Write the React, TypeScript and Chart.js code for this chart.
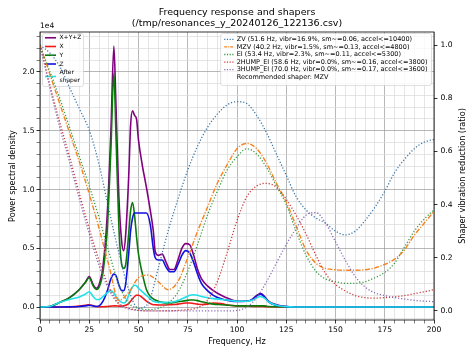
import React, { useEffect, useRef } from 'react';
import { Chart, registerables } from 'chart.js';

Chart.register(...registerables);

// ---------- data ----------
const psdFreqs = [0, 5, 10, 15, 20, 23, 25, 27, 28.5, 30, 32, 34, 36, 37.5, 38.5, 40, 41.5, 42.5, 43.5, 45, 46, 47, 48, 49, 50, 52, 54, 56, 57.5, 58.5, 60, 62, 64, 66, 68, 70, 72, 74, 76, 78, 80, 82, 85, 88, 92, 96, 100, 105, 108, 110, 112, 114, 116, 120, 125, 130, 140, 200];

const psdTotal = [0, 0.005, 0.04, 0.08, 0.15, 0.21, 0.26, 0.19, 0.16, 0.19, 0.35, 0.75, 1.5, 2.22, 1.75, 0.95, 0.55, 0.48, 0.62, 1.1, 1.55, 1.67, 1.63, 1.6, 1.42, 1.2, 1.02, 0.82, 0.65, 0.47, 0.44, 0.45, 0.38, 0.32, 0.32, 0.4, 0.5, 0.54, 0.53, 0.44, 0.32, 0.24, 0.18, 0.14, 0.1, 0.07, 0.05, 0.05, 0.07, 0.1, 0.115, 0.09, 0.05, 0.02, 0.005, 0.002, 0, 0];

const psdX = [0, 0, 0, 0.002, 0.008, 0.015, 0.02, 0.012, 0.005, 0.003, 0.003, 0.005, 0.008, 0.01, 0.01, 0.008, 0.008, 0.01, 0.015, 0.03, 0.05, 0.07, 0.09, 0.1, 0.1, 0.08, 0.05, 0.03, 0.02, 0.02, 0.018, 0.018, 0.018, 0.02, 0.022, 0.025, 0.03, 0.035, 0.035, 0.03, 0.025, 0.022, 0.025, 0.035, 0.03, 0.015, 0.01, 0.008, 0.006, 0.005, 0.005, 0.004, 0.003, 0.002, 0.001, 0, 0, 0];

const psdY = [0, 0.005, 0.04, 0.08, 0.15, 0.21, 0.25, 0.18, 0.15, 0.17, 0.3, 0.62, 1.35, 1.99, 1.5, 0.7, 0.36, 0.33, 0.36, 0.62, 0.82, 0.89, 0.78, 0.6, 0.45, 0.28, 0.15, 0.09, 0.07, 0.06, 0.05, 0.04, 0.035, 0.035, 0.04, 0.045, 0.05, 0.055, 0.06, 0.06, 0.055, 0.045, 0.035, 0.025, 0.02, 0.015, 0.01, 0.01, 0.01, 0.01, 0.01, 0.01, 0.005, 0.003, 0.001, 0, 0, 0];

const psdZ = [0, 0, 0, 0.002, 0.005, 0.01, 0.015, 0.01, 0.005, 0.01, 0.05, 0.13, 0.24, 0.28, 0.27, 0.19, 0.14, 0.14, 0.2, 0.45, 0.65, 0.76, 0.8, 0.8, 0.8, 0.8, 0.8, 0.7, 0.5, 0.42, 0.4, 0.4, 0.34, 0.3, 0.3, 0.36, 0.44, 0.48, 0.46, 0.38, 0.28, 0.2, 0.14, 0.1, 0.07, 0.055, 0.048, 0.05, 0.065, 0.095, 0.11, 0.085, 0.045, 0.015, 0.004, 0.001, 0, 0];

const psdAfterShaper = [0, 0.005, 0.04, 0.065, 0.085, 0.11, 0.13, 0.09, 0.065, 0.065, 0.09, 0.12, 0.14, 0.12, 0.09, 0.06, 0.04, 0.035, 0.045, 0.1, 0.14, 0.17, 0.185, 0.18, 0.16, 0.13, 0.1, 0.07, 0.05, 0.045, 0.04, 0.04, 0.04, 0.04, 0.045, 0.055, 0.07, 0.085, 0.1, 0.105, 0.1, 0.09, 0.08, 0.072, 0.065, 0.058, 0.05, 0.05, 0.06, 0.08, 0.09, 0.075, 0.045, 0.015, 0.004, 0.001, 0, 0];

const shaperFreqs = [0, 5, 10, 15, 20, 25, 30, 35, 40, 45, 50, 55, 60, 65, 70, 75, 80, 85, 90, 95, 100, 105, 110, 115, 120, 125, 130, 135, 140, 145, 150, 155, 160, 165, 170, 175, 180, 185, 190, 195, 200];

const zvVals = [1, 0.97, 0.92, 0.84, 0.76, 0.68, 0.55, 0.38, 0.22, 0.08, 0.01, 0.03, 0.16, 0.3, 0.42, 0.53, 0.62, 0.69, 0.74, 0.775, 0.787, 0.78, 0.735, 0.67, 0.59, 0.51, 0.43, 0.38, 0.35, 0.33, 0.3, 0.286, 0.3, 0.34, 0.39, 0.45, 0.52, 0.57, 0.61, 0.635, 0.645];
const mzvVals = [1, 0.89, 0.78, 0.67, 0.56, 0.44, 0.31, 0.17, 0.04, 0.07, 0.125, 0.135, 0.11, 0.08, 0.11, 0.2, 0.3, 0.39, 0.48, 0.55, 0.61, 0.63, 0.61, 0.556, 0.48, 0.41, 0.32, 0.23, 0.18, 0.16, 0.155, 0.153, 0.153, 0.155, 0.162, 0.175, 0.195, 0.23, 0.285, 0.33, 0.375];
const eiVals = [1, 0.9, 0.8, 0.69, 0.58, 0.47, 0.35, 0.22, 0.1, 0.03, 0.01, 0.005, 0.01, 0.03, 0.07, 0.15, 0.25, 0.36, 0.45, 0.53, 0.58, 0.61, 0.59, 0.54, 0.47, 0.4, 0.3, 0.21, 0.15, 0.12, 0.11, 0.104, 0.104, 0.11, 0.125, 0.145, 0.18, 0.24, 0.3, 0.345, 0.38];
const hump2Vals = [1, 0.85, 0.71, 0.58, 0.44, 0.31, 0.19, 0.09, 0.03, 0.01, 0.003, 0, 0, 0, 0.002, 0.005, 0.012, 0.04, 0.11, 0.22, 0.34, 0.43, 0.47, 0.48, 0.465, 0.42, 0.36, 0.29, 0.21, 0.14, 0.1, 0.075, 0.058, 0.05, 0.048, 0.05, 0.053, 0.058, 0.065, 0.072, 0.08];
const hump3Vals = [1, 0.84, 0.69, 0.56, 0.42, 0.29, 0.17, 0.08, 0.025, 0.008, 0.002, 0, 0, 0, 0, 0, 0, 0, 0, 0, 0.002, 0.015, 0.05, 0.11, 0.18, 0.25, 0.31, 0.36, 0.37, 0.33, 0.26, 0.19, 0.13, 0.09, 0.068, 0.058, 0.05, 0.045, 0.04, 0.037, 0.035];

const psdLabels = ['X+Y+Z', 'X', 'Y', 'Z', 'After\nshaper'];
const shaperLabels = [
  'ZV (51.6 Hz, vibr=16.9%, sm~=0.06, accel<=10400)',
  'MZV (40.2 Hz, vibr=1.5%, sm~=0.13, accel<=4800)',
  'EI (53.4 Hz, vibr=2.3%, sm~=0.11, accel<=5300)',
  '2HUMP_EI (58.6 Hz, vibr=0.0%, sm~=0.16, accel<=3800)',
  '3HUMP_EI (70.0 Hz, vibr=0.0%, sm~=0.17, accel<=3600)',
];
const recommendedText = 'Recommended shaper: MZV';
const titleLines = ['Frequency response and shapers', '(/tmp/resonances_y_20240126_122136.csv)'];
const xTitle = 'Frequency, Hz';
const yTitle = 'Power spectral density';
const y2Title = 'Shaper vibration reduction (ratio)';
const yOffsetText = '1e4';

const xMajorTicks = [0, 25, 50, 75, 100, 125, 150, 175, 200];
const yMajorTicks = [0, 0.5, 1.0, 1.5, 2.0];
const y2Ticks = [0, 0.2, 0.4, 0.6, 0.8, 1.0];

// ---------- styles ----------
const FONT = "'DejaVu Sans', sans-serif";
const psdColors = ['#800080', '#f01818', '#0a7a0a', '#1010e0', '#20e0e8'];
const shaperColors = ['#3a78aa', '#f58420', '#3a9a48', '#cc3a3a', '#8c6cb4'];
const DOT = [1.2, 1.9];
const DASHDOT = [5, 1.6, 1.2, 1.6];
const shaperDashes = [DOT, DASHDOT, DOT, DOT, DOT];

const W = 474;
const H = 355;
const AREA = { left: 40, right: 434, top: 32, bottom: 320 };

function pairs(xs: number[], ys: number[]) {
  return xs.map((x, i) => ({ x, y: ys[i] }));
}

function roundRect(ctx: CanvasRenderingContext2D, x: number, y: number, w: number, h: number, r: number) {
  ctx.beginPath();
  ctx.moveTo(x + r, y);
  ctx.lineTo(x + w - r, y);
  ctx.quadraticCurveTo(x + w, y, x + w, y + r);
  ctx.lineTo(x + w, y + h - r);
  ctx.quadraticCurveTo(x + w, y + h, x + w - r, y + h);
  ctx.lineTo(x + r, y + h);
  ctx.quadraticCurveTo(x, y + h, x, y + h - r);
  ctx.lineTo(x, y + r);
  ctx.quadraticCurveTo(x, y, x + r, y);
  ctx.closePath();
}

function legendBox(ctx: CanvasRenderingContext2D, x: number, y: number, w: number, h: number) {
  ctx.save();
  roundRect(ctx, x, y, w, h, 2);
  ctx.fillStyle = 'rgba(255,255,255,0.8)';
  ctx.fill();
  ctx.strokeStyle = 'rgba(204,204,204,0.8)';
  ctx.lineWidth = 0.8;
  ctx.stroke();
  ctx.restore();
}

function swatch(ctx: CanvasRenderingContext2D, x1: number, x2: number, y: number, color: string, dash: number[], width: number) {
  ctx.save();
  ctx.beginPath();
  ctx.setLineDash(dash);
  ctx.strokeStyle = color;
  ctx.lineWidth = width;
  ctx.moveTo(x1, y);
  ctx.lineTo(x2, y);
  ctx.stroke();
  ctx.restore();
}

function drawLeftLegend(ctx: CanvasRenderingContext2D) {
  const fs = 6;
  legendBox(ctx, 42.5, 33.5, 41, 53);
  const rows = [37.8, 46.5, 55.2, 64];
  ctx.save();
  ctx.font = `${fs}px ${FONT}`;
  ctx.fillStyle = '#000';
  ctx.textBaseline = 'middle';
  ctx.textAlign = 'left';
  for (let i = 0; i < 4; i++) {
    swatch(ctx, 45, 56, rows[i], psdColors[i], [], 1.6);
    ctx.fillText(psdLabels[i], 59.5, rows[i]);
  }
  const lines = psdLabels[4].split('\n');
  swatch(ctx, 45, 56, 76.5, psdColors[4], [], 1.6);
  ctx.fillText(lines[0], 59.5, 72.8);
  ctx.fillText(lines[1], 59.5, 80.2);
  ctx.restore();
}

function drawRightLegend(ctx: CanvasRenderingContext2D) {
  const fs = 6.5;
  ctx.save();
  ctx.font = `${fs}px ${FONT}`;
  const texts = [...shaperLabels, recommendedText];
  let maxW = 0;
  texts.forEach((t) => { maxW = Math.max(maxW, ctx.measureText(t).width); });
  const right = 431.5;
  const left = right - maxW - 20;
  legendBox(ctx, left, 33.5, right - left, 52);
  const rows = [39.3, 46.9, 54.5, 62.1, 69.7, 77.3];
  ctx.fillStyle = '#000';
  ctx.textBaseline = 'middle';
  ctx.textAlign = 'left';
  for (let i = 0; i < 5; i++) {
    swatch(ctx, left + 3.5, left + 13.5, rows[i], shaperColors[i], i === 1 ? [3, 1, 1, 1] : [1.2, 1.5], 1.3);
    ctx.fillText(shaperLabels[i], left + 16, rows[i]);
  }
  ctx.fillText(recommendedText, left + 16, rows[5]);
  ctx.restore();
}

function text(ctx: CanvasRenderingContext2D, s: string, x: number, y: number, size: number, rot = 0, align: CanvasTextAlign = 'center') {
  ctx.save();
  ctx.font = `${size}px ${FONT}`;
  ctx.fillStyle = '#000';
  ctx.textAlign = align;
  ctx.textBaseline = 'middle';
  ctx.translate(x, y);
  ctx.rotate(rot);
  ctx.fillText(s, 0, 0);
  ctx.restore();
}

const decorPlugin = {
  id: 'decor',
  beforeDatasetDraw(chart: any, args: any) {
    if (args.index === 5) drawLeftLegend(chart.ctx);
  },
  afterDatasetsDraw(chart: any) {
    const ctx: CanvasRenderingContext2D = chart.ctx;
    const a = chart.chartArea;
    ctx.save();
    ctx.strokeStyle = '#000';
    ctx.lineWidth = 0.8;
    ctx.strokeRect(a.left, a.top, a.right - a.left, a.bottom - a.top);
    ctx.restore();
    drawRightLegend(ctx);
  },
  afterDraw(chart: any) {
    const ctx: CanvasRenderingContext2D = chart.ctx;
    const a = chart.chartArea;
    const cx = (a.left + a.right) / 2;
    const cy = (a.top + a.bottom) / 2;
    text(ctx, titleLines[0], cx, 13, 9.5);
    text(ctx, titleLines[1], cx, 24, 9.5);
    text(ctx, yOffsetText, a.left, 26, 7.6, 0, 'left');
    text(ctx, xTitle, cx, 342, 8.1);
    text(ctx, yTitle, 12.5, cy, 8.1, -Math.PI / 2);
    text(ctx, y2Title, 463, cy, 8.1, -Math.PI / 2);
  },
};

const isMajorX = (v: number) => xMajorTicks.some((t) => Math.abs(t - v) < 1e-6);
const isMajorY = (v: number) => yMajorTicks.some((t) => Math.abs(t - v) < 1e-6);

export default function App() {
  const ref = useRef<HTMLCanvasElement>(null);
  useEffect(() => {
    const canvas = ref.current;
    if (!canvas) return;
    Chart.defaults.font.family = FONT;
    Chart.defaults.color = '#000';

    const psdSeries = [psdTotal, psdX, psdY, psdZ, psdAfterShaper];
    const shaperSeries = [zvVals, mzvVals, eiVals, hump2Vals, hump3Vals];

    const datasets: any[] = [];
    psdSeries.forEach((vals, i) => {
      datasets.push({
        label: psdLabels[i],
        data: pairs(psdFreqs, vals),
        borderColor: psdColors[i],
        backgroundColor: psdColors[i],
        borderWidth: 1.6,
        pointRadius: 0,
        fill: false,
        yAxisID: 'y',
        order: 10 - i,
        cubicInterpolationMode: 'monotone',
      });
    });
    shaperSeries.forEach((vals, i) => {
      datasets.push({
        label: shaperLabels[i],
        data: pairs(shaperFreqs, vals),
        borderColor: shaperColors[i],
        backgroundColor: shaperColors[i],
        borderWidth: i === 1 ? 1.4 : 1.3,
        borderDash: shaperDashes[i],
        pointRadius: 0,
        fill: false,
        yAxisID: 'y2',
        order: 5 - i,
        cubicInterpolationMode: 'monotone',
      });
    });

    const xMinor = Array.from({ length: 41 }, (_, i) => i * 5);
    const yMinor = Array.from({ length: 25 }, (_, i) => (i - 1) / 10);

    const chart = new Chart(canvas, {
      type: 'line',
      data: { datasets },
      plugins: [decorPlugin],
      options: {
        animation: false,
        responsive: false,
        maintainAspectRatio: false,
        devicePixelRatio: 1,
        layout: { padding: { top: AREA.top, left: 0, right: 0, bottom: 0 } },
        plugins: {
          legend: { display: false },
          title: { display: false },
          tooltip: { enabled: false },
        },
        elements: { point: { radius: 0 } },
        scales: {
          x: {
            type: 'linear',
            position: 'bottom',
            min: 0,
            max: 200,
            afterBuildTicks: (s: any) => { s.ticks = xMinor.map((v) => ({ value: v })); },
            afterFit: (s: any) => { s.height = H - AREA.bottom; },
            ticks: {
              autoSkip: false,
              maxRotation: 0,
              padding: 2,
              font: { size: 7.6 },
              color: '#000',
              callback: (v: any) => (isMajorX(Number(v)) ? String(v) : ''),
            },
            grid: {
              color: (c: any) => (c.tick && isMajorX(c.tick.value) ? '#999999' : '#dadada'),
              lineWidth: 0.7,
              tickLength: 3.5,
              tickColor: '#000',
              tickWidth: (c: any) => (c.tick && isMajorX(c.tick.value) ? 0.8 : 0.5),
            },
            border: { display: false },
          },
          y: {
            type: 'linear',
            position: 'left',
            min: -0.11,
            max: 2.34,
            afterBuildTicks: (s: any) => { s.ticks = yMinor.map((v) => ({ value: v })); },
            afterFit: (s: any) => { s.width = AREA.left; },
            ticks: {
              autoSkip: false,
              padding: 2,
              font: { size: 7.6 },
              color: '#000',
              callback: (v: any) => (isMajorY(Number(v)) ? Number(v).toFixed(1) : ''),
            },
            grid: {
              color: (c: any) => (c.tick && isMajorY(c.tick.value) ? '#999999' : '#dadada'),
              lineWidth: 0.7,
              tickLength: 3.5,
              tickColor: '#000',
              tickWidth: (c: any) => (c.tick && isMajorY(c.tick.value) ? 0.8 : 0.5),
            },
            border: { display: false },
          },
          y2: {
            type: 'linear',
            position: 'right',
            min: -0.034,
            max: 1.049,
            afterBuildTicks: (s: any) => { s.ticks = y2Ticks.map((v) => ({ value: v })); },
            afterFit: (s: any) => { s.width = W - AREA.right; },
            ticks: {
              autoSkip: false,
              padding: 3,
              font: { size: 7.6 },
              color: '#000',
              callback: (v: any) => Number(v).toFixed(1),
            },
            grid: {
              drawOnChartArea: false,
              tickLength: 3.5,
              tickColor: '#000',
              tickWidth: 0.8,
            },
            border: { display: false },
          },
        },
      } as any,
    });
    return () => chart.destroy();
  }, []);

  return (
    <canvas
      ref={ref}
      width={W}
      height={H}
      style={{ position: 'fixed', left: 0, top: 0, width: W, height: H, background: '#fff' }}
    />
  );
}
